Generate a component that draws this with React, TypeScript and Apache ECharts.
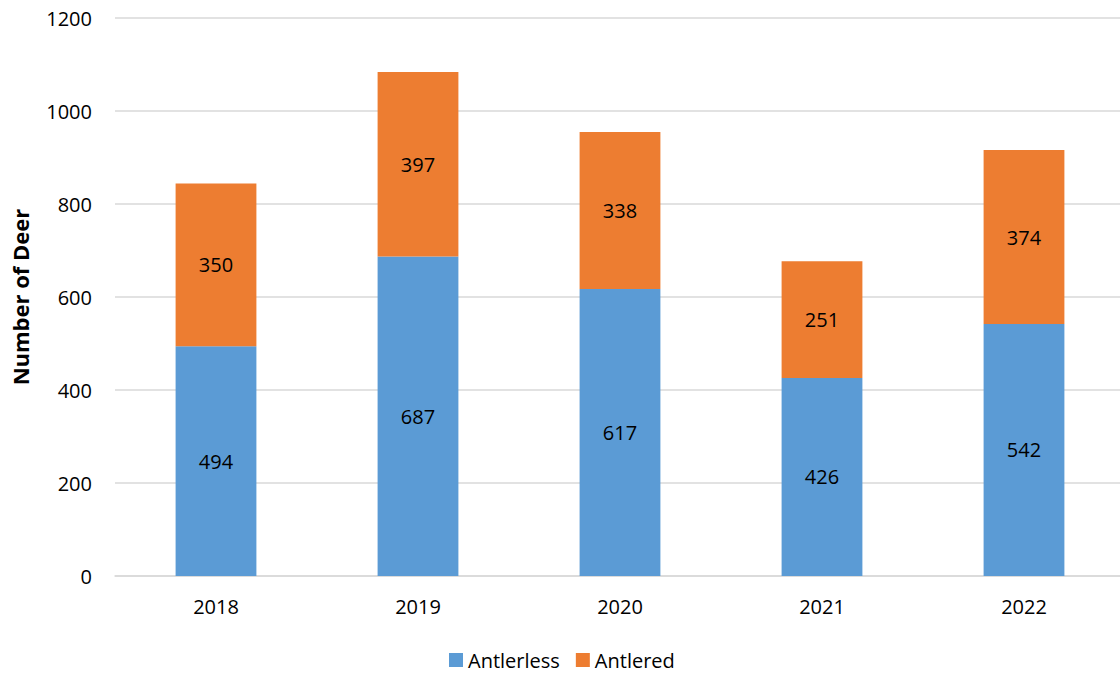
import React, { useEffect, useRef } from "react";
import * as echarts from "echarts";

const years = ["2018", "2019", "2020", "2021", "2022"];
const antlerless = [494, 687, 617, 426, 542];
const antlered = [350, 397, 338, 251, 374];
const yTicks = [0, 200, 400, 600, 800, 1000, 1200];

export default function App() {
  const ref = useRef<HTMLDivElement>(null);
  useEffect(() => {
    const chart = echarts.init(ref.current!, null, { renderer: "svg" });
    const font = "'Open Sans', 'Liberation Sans', sans-serif";
    chart.setOption({
      animation: false,
      textStyle: { fontFamily: font },
      grid: { left: 115, right: 5, top: 18, bottom: 99, containLabel: false },
      legend: {
        top: 645,
        left: 444,
        itemWidth: 14,
        itemHeight: 14,
        itemGap: 16,
        icon: "rect",
        textStyle: { fontSize: 20, color: "#000", fontFamily: font },
        data: ["Antlerless", "Antlered"],
      },
      xAxis: {
        type: "category",
        data: years,
        axisLine: { lineStyle: { color: "#d9d9d9", width: 1.5 } },
        axisTick: { show: false },
        axisLabel: { fontSize: 20, color: "#000", margin: 20, fontFamily: font },
      },
      yAxis: {
        type: "value",
        min: yTicks[0],
        max: yTicks[yTicks.length - 1],
        interval: 200,
        name: "Number of Deer",
        nameLocation: "middle",
        nameGap: 84,
        nameTextStyle: { fontSize: 22, fontWeight: "bold", color: "#000", fontFamily: font },
        axisLine: { show: false },
        axisTick: { show: false },
        axisLabel: {
          fontSize: 20,
          color: "#000",
          margin: 23,
          fontFamily: font,
          formatter: (v: number) => String(v),
        },
        splitLine: { lineStyle: { color: "#d9d9d9", width: 1.5 } },
      },
      series: [
        {
          name: "Antlerless",
          type: "bar",
          stack: "total",
          data: antlerless,
          barWidth: "40%",
          itemStyle: { color: "#5b9bd5" },
          label: { show: true, position: "inside", fontSize: 20, color: "#000", fontFamily: font },
        },
        {
          name: "Antlered",
          type: "bar",
          stack: "total",
          data: antlered,
          barWidth: "40%",
          itemStyle: { color: "#ed7d31" },
          label: { show: true, position: "inside", fontSize: 20, color: "#000", fontFamily: font },
        },
      ],
    });
    return () => chart.dispose();
  }, []);
  return (
    <div style={{ position: "fixed", left: 0, top: 0, width: 1120, height: 675, overflow: "hidden", background: "#fff" }}>
      <div ref={ref} style={{ width: 1130, height: 675 }} />
    </div>
  );
}
